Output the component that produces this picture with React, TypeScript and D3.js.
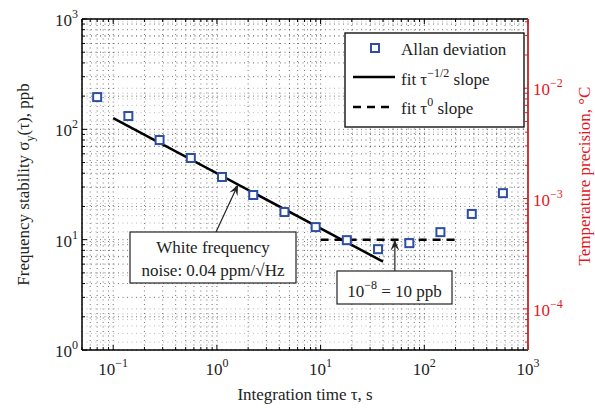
import * as d3 from "d3";

// Allan deviation points
const tauValues = [0.07, 0.14, 0.28, 0.56, 1.12, 2.24, 4.48, 8.96, 17.9, 35.8, 71.7, 143, 287, 573];
const adevValues = [196, 132, 80, 55, 37, 25.4, 17.8, 13.0, 9.9, 8.2, 9.3, 11.7, 17.1, 26.4];

// white frequency fit (40 ppb / sqrt(tau)) and flat fit at 10 ppb
const fitHalfTau = [0.1, 40];
const fitHalfVal = [126.5, 6.32];
const fitZeroTau = [10, 200];
const fitZeroVal = [10, 10];

const xTickExps = [-1, 0, 1, 2, 3];
const yTickExps = [0, 1, 2, 3];
const rTickExps = [-4, -3, -2];

// conversion from ppb to degC on the right axis
const degPerPpb = 4.24e-5;

const W = 595;
const H = 408;
const margin = { top: 19, right: 67, bottom: 58, left: 82 };
const FONT = "'Liberation Serif', 'DejaVu Serif', serif";
const RED_TEXT = "#e5161d";
const RED_AXIS = "#c8242a";
const BLUE = "#2d4fa3";

const minorTicks = (lo: number, hi: number) => {
  const out: number[] = [];
  for (let e = Math.floor(Math.log10(lo)); e <= Math.ceil(Math.log10(hi)); e++) {
    for (let k = 1; k <= 9; k++) {
      const v = k * Math.pow(10, e);
      if (v >= lo * 0.999 && v <= hi * 1.001) out.push(v);
    }
  }
  return out;
};

const isMajor = (v: number) => Math.abs(Math.log10(v) - Math.round(Math.log10(v))) < 1e-6;

const Pow = ({ x, y, exp, anchor, fill, size = 17 }: any) => (
  <text x={x} y={y} textAnchor={anchor} fontFamily={FONT} fontSize={size} fill={fill}>
    10
    <tspan dy={-8} fontSize={12}>{exp}</tspan>
  </text>
);

const App = () => {
  const x0 = margin.left;
  const x1 = W - margin.right;
  const y0 = H - margin.bottom;
  const y1 = margin.top;

  const x = d3.scaleLog().domain([0.05, 1000]).range([x0, x1]);
  const y = d3.scaleLog().domain([1, 1000]).range([y0, y1]);
  const yR = d3.scaleLog().domain([1 * degPerPpb, 1000 * degPerPpb]).range([y0, y1]);

  const xGrid = minorTicks(0.05, 1000);
  const yGrid = minorTicks(1, 1000);
  const rGrid = minorTicks(degPerPpb, 1000 * degPerPpb);

  const pts = tauValues.map((t, i) => ({ t, v: adevValues[i] }));
  const fitLine = d3.line<number[]>().x((d) => x(d[0])).y((d) => y(d[1]));
  const fitHalf = fitLine(fitHalfTau.map((t, i) => [t, fitHalfVal[i]]));
  const fitZero = fitLine(fitZeroTau.map((t, i) => [t, fitZeroVal[i]]));

  // arrow tips in data coords
  const tip1 = { x: x(1.6), y: y(40 / Math.sqrt(1.6)) };
  const tail1 = { x: 216, y: 232 };
  const tip2 = { x: x(52), y: y(10) };
  const tail2 = { x: tip2.x, y: 271 };

  const arrowHead = (tail: any, tip: any) => {
    const ang = Math.atan2(tip.y - tail.y, tip.x - tail.x);
    const len = 11;
    const half = 4.5;
    const bx = tip.x - len * Math.cos(ang);
    const by = tip.y - len * Math.sin(ang);
    const nx = -Math.sin(ang);
    const ny = Math.cos(ang);
    const mx = tip.x - len * 0.6 * Math.cos(ang);
    const my = tip.y - len * 0.6 * Math.sin(ang);
    return `M${tip.x},${tip.y}L${bx + nx * half},${by + ny * half}L${mx},${my}L${bx - nx * half},${by - ny * half}Z`;
  };

  const gridStyle = { stroke: "#000", strokeWidth: 0.7, strokeDasharray: "1 3.5", strokeOpacity: 0.8 };

  return (
    <svg width={W} height={H} style={{ position: "absolute", left: 0, top: 0, background: "#fff" }}>
      {/* grid */}
      <g>
        {xGrid.map((v, i) => (
          <line key={"gx" + i} x1={x(v)} x2={x(v)} y1={y0} y2={y1} {...gridStyle} />
        ))}
        {yGrid.map((v, i) => (
          <line key={"gy" + i} x1={x0} x2={x1} y1={y(v)} y2={y(v)} {...gridStyle} />
        ))}
        {rGrid.map((v, i) => (
          <line key={"gr" + i} x1={x0} x2={x1} y1={yR(v)} y2={yR(v)} {...gridStyle} strokeOpacity={0.4} />
        ))}
      </g>

      {/* fits */}
      <path d={fitHalf ?? ""} fill="none" stroke="#000" strokeWidth={2.5} />
      <path d={fitZero ?? ""} fill="none" stroke="#000" strokeWidth={2.5} strokeDasharray="8 6" />

      {/* data */}
      {pts.map((p, i) => (
        <rect key={i} x={x(p.t) - 4} y={y(p.v) - 4} width={8} height={8} fill="#fff" stroke={BLUE} strokeWidth={2} />
      ))}

      {/* axes frame */}
      <line x1={x0} x2={x1} y1={y0} y2={y0} stroke="#000" strokeWidth={1.5} />
      <line x1={x0} x2={x1} y1={y1} y2={y1} stroke="#000" strokeWidth={1.5} />
      <line x1={x0} x2={x0} y1={y0} y2={y1} stroke="#000" strokeWidth={1.5} />
      {xGrid.map((v, i) => {
        const l = isMajor(v) ? 5 : 3;
        return (
          <g key={"xt" + i}>
            <line x1={x(v)} x2={x(v)} y1={y0} y2={y0 - l} stroke="#000" strokeWidth={1} />
            <line x1={x(v)} x2={x(v)} y1={y1} y2={y1 + l} stroke="#000" strokeWidth={1} />
          </g>
        );
      })}
      {yGrid.map((v, i) => {
        const l = isMajor(v) ? 5 : 3;
        return <line key={"yt" + i} x1={x0} x2={x0 + l} y1={y(v)} y2={y(v)} stroke="#000" strokeWidth={1} />;
      })}
      {/* right red axis */}
      <line x1={x1} x2={x1} y1={y0} y2={y1} stroke={RED_AXIS} strokeWidth={1.8} />
      {rGrid.map((v, i) => {
        const l = isMajor(v) ? 5 : 3;
        return <line key={"rt" + i} x1={x1} x2={x1 - l} y1={yR(v)} y2={yR(v)} stroke={RED_AXIS} strokeWidth={1} />;
      })}

      {/* tick labels */}
      {xTickExps.map((e) => (
        <Pow key={"xl" + e} x={x(Math.pow(10, e))} y={y0 + 25} exp={e < 0 ? "\u2212" + -e : String(e)} anchor="middle" fill="#222" />
      ))}
      {yTickExps.map((e) => (
        <Pow key={"yl" + e} x={x0 - 4} y={y(Math.pow(10, e)) + 7} exp={String(e)} anchor="end" fill="#222" />
      ))}
      {rTickExps.map((e) => (
        <Pow key={"rl" + e} x={x1 + 5} y={yR(Math.pow(10, e)) + 7} exp={"\u2212" + -e} anchor="start" fill={RED_TEXT} />
      ))}

      {/* axis titles */}
      <text x={(x0 + x1) / 2} y={400} textAnchor="middle" fontFamily={FONT} fontSize={17} fill="#222">
        Integration time τ, s
      </text>
      <text transform={`translate(29,${(y0 + y1) / 2}) rotate(-90)`} textAnchor="middle" fontFamily={FONT} fontSize={17} fill="#222">
        Frequency stability σ<tspan dy={5} fontSize={12}>y</tspan>
        <tspan dy={-5}>(τ), ppb</tspan>
      </text>
      <text transform={`translate(590,176) rotate(-90)`} textAnchor="middle" fontFamily={FONT} fontSize={17} fill={RED_TEXT}>
        Temperature precision, °C
      </text>

      {/* legend */}
      <g>
        <rect x={345} y={33} width={179} height={94} fill="#fff" stroke="#000" strokeWidth={1.3} />
        <rect x={371} y={44} width={8} height={8} fill="#fff" stroke={BLUE} strokeWidth={2} />
        <text x={401} y={55} fontFamily={FONT} fontSize={17} fill="#222">Allan deviation</text>
        <line x1={353} x2={395} y1={77} y2={77} stroke="#000" strokeWidth={2.5} />
        <text x={401} y={85} fontFamily={FONT} fontSize={17} fill="#222">
          fit τ<tspan dy={-8} fontSize={12}>−1/2</tspan>
          <tspan dy={8}> slope</tspan>
        </text>
        <line x1={353} x2={395} y1={107} y2={107} stroke="#000" strokeWidth={2.5} strokeDasharray="8 6" />
        <text x={401} y={114} fontFamily={FONT} fontSize={17} fill="#222">
          fit τ<tspan dy={-8} fontSize={12}>0</tspan>
          <tspan dy={8}> slope</tspan>
        </text>
      </g>

      {/* annotations */}
      <line x1={tail1.x} y1={tail1.y} x2={tip1.x} y2={tip1.y} stroke="#222" strokeWidth={1.2} />
      <path d={arrowHead(tail1, tip1)} fill="#222" />
      <rect x={130} y={232} width={166} height={51} fill="#fff" stroke="#222" strokeWidth={1.2} />
      <text x={213} y={253} textAnchor="middle" fontFamily={FONT} fontSize={17} fill="#222">White frequency</text>
      <text x={213} y={276} textAnchor="middle" fontFamily={FONT} fontSize={17} fill="#222">noise: 0.04 ppm/√Hz</text>

      <line x1={tail2.x} y1={tail2.y} x2={tip2.x} y2={tip2.y} stroke="#222" strokeWidth={1.2} />
      <path d={arrowHead(tail2, tip2)} fill="#222" />
      <rect x={337} y={271} width={115} height={33} fill="#fff" stroke="#222" strokeWidth={1.2} />
      <text x={394.5} y={297} textAnchor="middle" fontFamily={FONT} fontSize={17} fill="#222">
        10<tspan dy={-8} fontSize={12}>−8</tspan>
        <tspan dy={8}> = 10 ppb</tspan>
      </text>
    </svg>
  );
};

export default App;
